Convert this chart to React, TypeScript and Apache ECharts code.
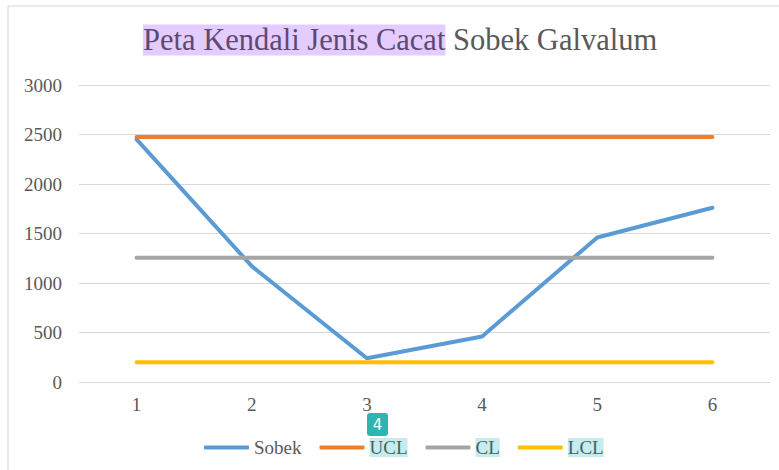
import React, { useEffect, useRef } from "react";
import * as echarts from "echarts";

const categories = ["1", "2", "3", "4", "5", "6"];
const sobek = [2450, 1170, 240, 460, 1460, 1760];
const ucl = [2475, 2475, 2475, 2475, 2475, 2475];
const cl = [1255, 1255, 1255, 1255, 1255, 1255];
const lcl = [200, 200, 200, 200, 200, 200];
const titleHighlighted = "Peta Kendali Jenis Cacat";
const titleRest = "Sobek Galvalum";

const FONT = "Liberation Serif";

export default function App() {
  const ref = useRef<HTMLDivElement>(null);
  useEffect(() => {
    document.body.style.margin = "0";
    const chart = echarts.init(ref.current!, null, { renderer: "svg" });
    const mk = (name: string, data: number[], color: string) => ({
      name,
      type: "line",
      data,
      symbol: "none",
      lineStyle: { color, width: 4, cap: "round", join: "round" },
      itemStyle: { color },
    });
    chart.setOption({
      animation: false,
      backgroundColor: "#ffffff",
      textStyle: { fontFamily: FONT },
      title: {
        text: `{a|${titleHighlighted}}{b| ${titleRest}}`,
        left: 138,
        top: 18,
        textStyle: {
          fontFamily: FONT,
          fontSize: 30.5,
          fontWeight: "normal",
          rich: {
            a: {
              fontFamily: FONT,
              fontSize: 30.5,
              lineHeight: 34,
              fontWeight: "normal",
              color: "#5d4a73",
              backgroundColor: "#e5ccff",
            },
            b: { fontFamily: FONT, fontSize: 30.5, lineHeight: 34, fontWeight: "normal", color: "#595959" },
          },
        },
      },
      legend: {
        bottom: 8,
        left: 199,
        itemWidth: 45,
        itemHeight: 4,
        itemGap: 18,
        icon: "roundRect",
        textStyle: {
          fontFamily: FONT,
          fontSize: 19,
          color: "#595959",
          rich: {
            n: { fontFamily: FONT, fontSize: 19, lineHeight: 22, color: "#595959" },
            hl: {
              fontFamily: FONT,
              fontSize: 19,
              lineHeight: 22,
              color: "#3d6566",
              backgroundColor: "#c8ecec",
            },
          },
        },
        formatter: (n: string) => (n === "Sobek" ? `{n|${n}}` : `{hl|${n}}`),
        data: ["Sobek", "UCL", "CL", "LCL"],
      },
      grid: { left: 79, right: 9, top: 85, bottom: 88, containLabel: false },
      xAxis: {
        type: "category",
        data: categories,
        boundaryGap: true,
        axisLine: { show: false },
        axisTick: { show: false },
        axisLabel: { fontFamily: FONT, fontSize: 19, color: "#595959", margin: 13 },
      },
      yAxis: {
        type: "value",
        min: 0,
        max: 3000,
        interval: 500,
        axisLine: { show: false },
        axisTick: { show: false },
        splitLine: { lineStyle: { color: "#d9d9d9", width: 1 } },
        axisLabel: {
          fontFamily: FONT,
          fontSize: 19,
          color: "#595959",
          margin: 17,
          formatter: (v: number) => String(v),
        },
      },
      series: [
        mk("Sobek", sobek, "#5b9bd5"),
        mk("UCL", ucl, "#ed7d31"),
        mk("CL", cl, "#a5a5a5"),
        mk("LCL", lcl, "#ffc000"),
      ],
      graphic: [
        { type: "line", shape: { x1: 8, y1: 6, x2: 779, y2: 6 }, style: { stroke: "#e3e3e3", lineWidth: 1.5 } },
        { type: "line", shape: { x1: 8, y1: 6, x2: 8, y2: 470 }, style: { stroke: "#e3e3e3", lineWidth: 1.5 } },
        {
          type: "rect",
          shape: { x: 367, y: 413, width: 21, height: 23, r: 3 },
          style: { fill: "#2fb5b0" },
        },
        {
          type: "text",
          x: 377.5,
          y: 424.5,
          style: {
            text: "4",
            fill: "#ffffff",
            font: "15px 'DejaVu Sans', sans-serif",
            align: "center",
            verticalAlign: "middle",
          },
        },
      ],
    });
    return () => chart.dispose();
  }, []);
  return <div ref={ref} style={{ width: 779, height: 470 }} />;
}
